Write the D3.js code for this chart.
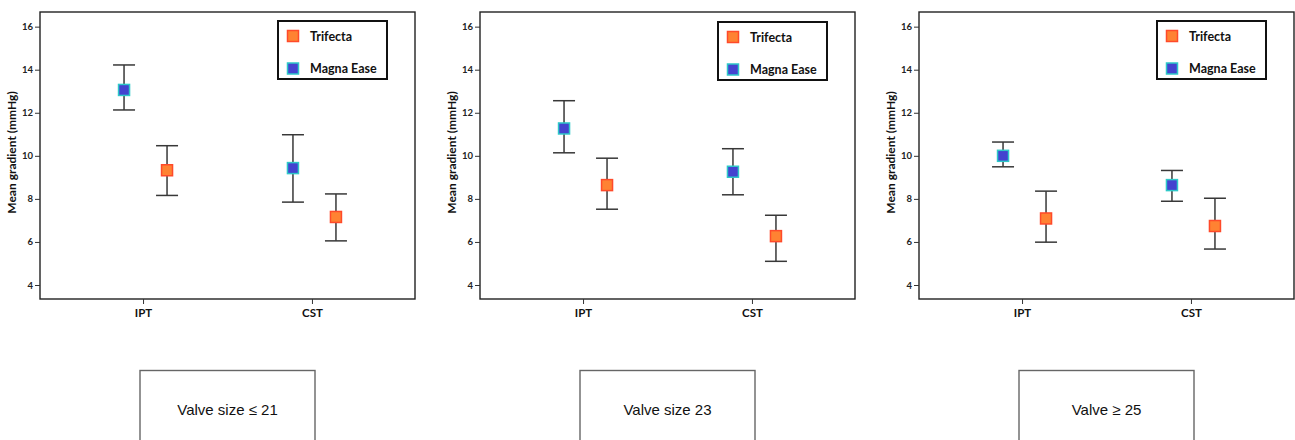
<!DOCTYPE html>
<html lang="en">
<head>
    <meta charset="UTF-8">
    <title>Mean gradient by valve size</title>
    <script src="https://d3js.org/d3.v7.min.js"></script>
    <style>
        body { margin: 0; background: #fff; }
        svg { display: block; }
    </style>
</head>
<body>
    <div id="chart"></div>

    <script>
        // Panels (valve size groups) and categories
        const panelTitles = ["Valve size \u2264 21", "Valve size 23", "Valve \u2265 25"];
        const categories = ["IPT", "CST"];
        const seriesNames = ["Trifecta", "Magna Ease"];
        const yTicks = [4, 6, 8, 10, 12, 14, 16];

        // Values per panel: [IPT, CST]
        const trifectaMean  = [[9.33, 7.16], [8.64, 6.27], [7.09, 6.74]];
        const trifectaLow   = [[8.16, 6.05], [7.52, 5.10], [5.99, 5.67]];
        const trifectaHigh  = [[10.47, 8.23], [9.89, 7.24], [8.36, 8.03]];
        const magnaMean     = [[13.06, 9.43], [11.27, 9.26], [10.0, 8.64]];
        const magnaLow      = [[12.13, 7.85], [10.14, 8.19], [9.49, 7.89]];
        const magnaHigh     = [[14.22, 10.98], [12.56, 10.33], [10.64, 9.32]];

        const styles = {
            "Trifecta":   { fill: "#ff8232", stroke: "#ff4a2a" },
            "Magna Ease": { fill: "#4343cf", stroke: "#2ec8c8" }
        };

        // Layout
        const panelLeft = [40, 480, 919];
        const plotW = 375, plotTop = 12, plotH = 287;
        const boldFont = "Lato, 'Open Sans', sans-serif";

        const svg = d3.select("#chart")
            .append("svg")
            .attr("width", 1295)
            .attr("height", 440);

        const y = d3.scaleLinear()
            .domain([3.35, 16.68])
            .range([plotH, 0]);

        const x = d3.scalePoint()
            .domain(categories)
            .range([0, plotW])
            .padding(0.61);

        // dodge within a category
        const dodge = d3.scalePoint()
            .domain(["Magna Ease", "Trifecta"])
            .range([-19, 24]);

        panelTitles.forEach((title, p) => {
            const g = svg.append("g")
                .attr("transform", `translate(${panelLeft[p]},${plotTop})`);

            // frame
            g.append("rect")
                .attr("width", plotW)
                .attr("height", plotH)
                .attr("fill", "none")
                .attr("stroke", "#222")
                .attr("stroke-width", 1.4);

            // Y axis
            g.append("g")
                .call(d3.axisLeft(y).tickValues(yTicks).tickSize(5).tickPadding(2))
                .call(a => a.select(".domain").remove())
                .call(a => a.selectAll("line").attr("stroke", "#333"))
                .call(a => a.selectAll("text")
                    .attr("fill", "#222")
                    .attr("font-family", boldFont)
                    .attr("font-weight", "bold")
                    .attr("font-size", "9.5px"));

            // X axis
            g.append("g")
                .attr("transform", `translate(0,${plotH})`)
                .call(d3.axisBottom(x).tickSize(5).tickPadding(5))
                .call(a => a.select(".domain").remove())
                .call(a => a.selectAll("line").attr("stroke", "#333"))
                .call(a => a.selectAll("text")
                    .attr("fill", "#111")
                    .attr("font-family", boldFont)
                    .attr("font-weight", "bold")
                    .attr("font-size", "11.5px"));

            // Y title
            g.append("text")
                .attr("transform", `translate(${-24},${plotH / 2 - 3}) rotate(-90)`)
                .attr("text-anchor", "middle")
                .attr("fill", "#111")
                .attr("font-family", boldFont)
                .attr("font-weight", "bold")
                .attr("font-size", "12px")
                .text("Mean gradient (mmHg)");

            // Build points
            const pts = [];
            categories.forEach((c, i) => {
                pts.push({ s: "Magna Ease", c, mean: magnaMean[p][i], lo: magnaLow[p][i], hi: magnaHigh[p][i] });
                pts.push({ s: "Trifecta", c, mean: trifectaMean[p][i], lo: trifectaLow[p][i], hi: trifectaHigh[p][i] });
            });

            const cx = d => x(d.c) + dodge(d.s);
            const cap = 11;

            const eb = g.append("g")
                .attr("stroke", "#383838")
                .attr("stroke-width", 1.5);

            eb.selectAll(".stem")
                .data(pts)
                .join("line")
                .attr("class", "stem")
                .attr("x1", cx).attr("x2", cx)
                .attr("y1", d => y(d.lo)).attr("y2", d => y(d.hi));

            eb.selectAll(".capHi")
                .data(pts)
                .join("line")
                .attr("class", "capHi")
                .attr("x1", d => cx(d) - cap).attr("x2", d => cx(d) + cap)
                .attr("y1", d => y(d.hi)).attr("y2", d => y(d.hi));

            eb.selectAll(".capLo")
                .data(pts)
                .join("line")
                .attr("class", "capLo")
                .attr("x1", d => cx(d) - cap).attr("x2", d => cx(d) + cap)
                .attr("y1", d => y(d.lo)).attr("y2", d => y(d.lo));

            g.append("g")
                .selectAll("rect")
                .data(pts)
                .join("rect")
                .attr("x", d => cx(d) - 5.5)
                .attr("y", d => y(d.mean) - 5.5)
                .attr("width", 11)
                .attr("height", 11)
                .attr("fill", d => styles[d.s].fill)
                .attr("stroke", d => styles[d.s].stroke)
                .attr("stroke-width", 1.5);

            // Legend
            const lg = g.append("g")
                .attr("transform", `translate(238,${p === 1 ? 10 : 9})`);
            lg.append("rect")
                .attr("width", 109)
                .attr("height", 58)
                .attr("fill", "#fff")
                .attr("stroke", "#111")
                .attr("stroke-width", 2);
            seriesNames.forEach((s, i) => {
                const ly = 15 + i * 32.5;
                lg.append("rect")
                    .attr("x", 9.5)
                    .attr("y", ly - 5.5)
                    .attr("width", 11)
                    .attr("height", 11)
                    .attr("fill", styles[s].fill)
                    .attr("stroke", styles[s].stroke)
                    .attr("stroke-width", 1.5);
                lg.append("text")
                    .attr("x", 32)
                    .attr("y", ly + 4.5)
                    .attr("fill", "#111")
                    .attr("font-family", boldFont)
                    .attr("font-weight", "bold")
                    .attr("font-size", "12.5px")
                    .text(s);
            });

            // Caption box below
            const bx = plotW / 2 - 87.5;
            svg.append("rect")
                .attr("x", panelLeft[p] + bx)
                .attr("y", 370.5)
                .attr("width", 175)
                .attr("height", 80)
                .attr("fill", "none")
                .attr("stroke", "#666")
                .attr("stroke-width", 1.4);
            svg.append("text")
                .attr("x", panelLeft[p] + plotW / 2)
                .attr("y", 415)
                .attr("text-anchor", "middle")
                .attr("fill", "#111")
                .attr("font-family", "'Liberation Sans', Arial, sans-serif")
                .attr("font-size", "15px")
                .text(title);
        });
    </script>
</body>
</html>
